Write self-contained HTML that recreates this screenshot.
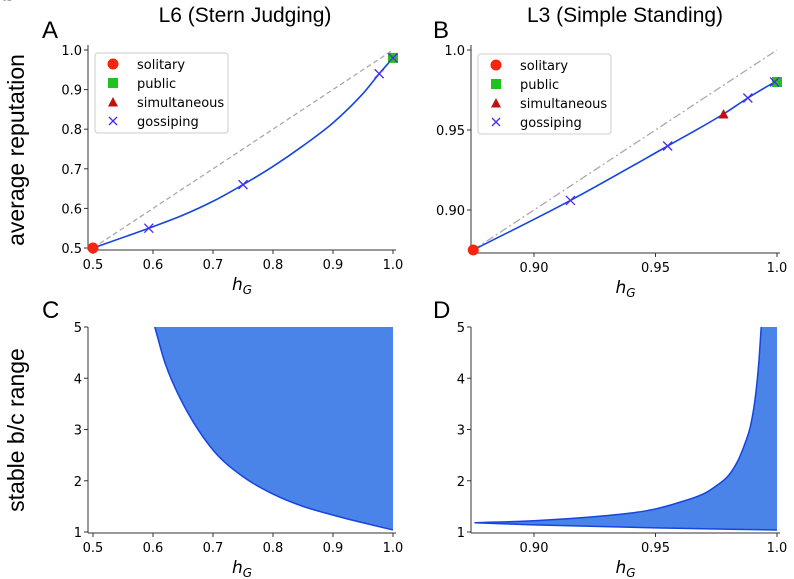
<!DOCTYPE html>
<html><head><meta charset="utf-8"><style>
body{margin:0;background:#fff}
svg{display:block;font-family:"DejaVu Sans","Liberation Sans",sans-serif}
</style></head><body>
<svg id="fig" width="794" height="579" viewBox="0 0 794 579">
<text x="245" y="22" font-size="21" text-anchor="middle" font-family="Liberation Sans, sans-serif">L6 (Stern Judging)</text>
<text x="625" y="22" font-size="21" text-anchor="middle" font-family="Liberation Sans, sans-serif">L3 (Simple Standing)</text>
<text x="42" y="38" font-size="24" font-family="Liberation Sans, sans-serif">A</text>
<text x="433" y="38" font-size="24" font-family="Liberation Sans, sans-serif">B</text>
<text x="42" y="318" font-size="24" font-family="Liberation Sans, sans-serif">C</text>
<text x="433" y="318" font-size="24" font-family="Liberation Sans, sans-serif">D</text>
<text transform="translate(24,150) rotate(-90)" font-size="23" text-anchor="middle" font-family="Liberation Sans, sans-serif">average reputation</text>
<text transform="translate(24,430) rotate(-90)" font-size="23" text-anchor="middle" font-family="Liberation Sans, sans-serif">stable b/c range</text>
</svg>
<script>
// Panel A data
const aCurveX=[0.5,0.593,0.65,0.7,0.75,0.8,0.85,0.9,0.95,0.977,1.0];
const aCurveY=[0.5,0.55,0.583,0.618,0.66,0.706,0.758,0.816,0.89,0.94,0.98];
const aGossipX=[0.593,0.75,0.977,1.0];
const aGossipY=[0.55,0.66,0.94,0.98];
const aSolitary=[0.5,0.5];
const aPublic=[1.0,0.98];
const aXTicks=[0.5,0.6,0.7,0.8,0.9,1.0];
const aXTickLabels=["0.5","0.6","0.7","0.8","0.9","1.0"];
const aYTicks=[0.5,0.6,0.7,0.8,0.9,1.0];
const aYTickLabels=["0.5","0.6","0.7","0.8","0.9","1.0"];
// Panel B data
const bCurveX=[0.875,0.915,0.955,0.978,0.988,0.999];
const bCurveY=[0.875,0.906,0.94,0.96,0.97,0.98];
const bGossipX=[0.915,0.955,0.988,0.999];
const bGossipY=[0.906,0.94,0.97,0.98];
const bSolitary=[0.875,0.875];
const bPublic=[1.0,0.98];
const bSimultaneous=[0.978,0.96];
const bXTicks=[0.90,0.95,1.0];
const bXTickLabels=["0.90","0.95","1.0"];
const bYTicks=[0.90,0.95,1.0];
const bYTickLabels=["0.90","0.95","1.0"];
// Panel C data
const cBoundX=[0.603,0.62,0.65,0.7,0.75,0.8,0.85,0.9,0.95,1.0];
const cBoundY=[5,4.3,3.5,2.6,2.08,1.74,1.5,1.33,1.18,1.04];
// Panel D data
const dUpperX=[0.8755,0.90,0.92,0.94,0.95,0.96,0.97,0.975,0.98,0.984,0.987,0.989,0.991,0.9925,0.9935];
const dUpperY=[1.18,1.22,1.28,1.37,1.45,1.58,1.75,1.9,2.1,2.4,2.75,3.05,3.6,4.3,5];
const dLowerX=[0.8755,0.9,0.95,1.0];
const dLowerY=[1.18,1.14,1.08,1.04];
const cdYTicks=[1,2,3,4,5];
const cdYTickLabels=["1","2","3","4","5"];

const NS="http://www.w3.org/2000/svg";
const svg=document.getElementById('fig');
function mk(tag,attrs,parent){const e=document.createElementNS(NS,tag);for(const k in attrs)e.setAttribute(k,attrs[k]);(parent||svg).appendChild(e);return e;}
function scale(d0,d1,r0,r1){return v=>r0+(v-d0)/(d1-d0)*(r1-r0);}
function smoothPath(xs,ys,sx,sy,cont){
  const P=xs.map((x,i)=>[sx(x),sy(ys[i])]);const n=P.length;
  const d=[],m=[];
  for(let i=0;i<n-1;i++)d.push((P[i+1][1]-P[i][1])/(P[i+1][0]-P[i][0]));
  m[0]=d[0];m[n-1]=d[n-2];
  for(let i=1;i<n-1;i++){m[i]=(d[i-1]*d[i]<=0)?0:(d[i-1]+d[i])/2;}
  for(let i=0;i<n-1;i++){if(d[i]===0){m[i]=m[i+1]=0;continue;}
    const a=m[i]/d[i],b=m[i+1]/d[i],s=a*a+b*b;if(s>9){const t=3/Math.sqrt(s);m[i]=t*a*d[i];m[i+1]=t*b*d[i];}}
  let p=(cont?'L':'M')+P[0][0].toFixed(2)+','+P[0][1].toFixed(2);
  for(let i=0;i<n-1;i++){const h=(P[i+1][0]-P[i][0])/3;
    p+=` C${(P[i][0]+h).toFixed(2)},${(P[i][1]+m[i]*h).toFixed(2)} ${(P[i+1][0]-h).toFixed(2)},${(P[i+1][1]-m[i+1]*h).toFixed(2)} ${P[i+1][0].toFixed(2)},${P[i+1][1].toFixed(2)}`;}
  return p;
}

function axes(name,left,right,top,bottom,sx,sy,xt,xl,yt,yl,xlab,ylab,ylabX){
  const g=mk('g',{});
  
  
  const ls=mk('line',{x1:left,y1:top,x2:left,y2:bottom,stroke:'#333','stroke-width':1},g);
  
  
  const bs=mk('line',{x1:left,y1:bottom,x2:right,y2:bottom,stroke:'#333','stroke-width':1},g);
  
  
  xt.forEach((v,i)=>{const x=sx(v);mk('line',{x1:x,y1:bottom,x2:x,y2:bottom+4,stroke:'#333'},g);
    const t=mk('text',{x:x,y:bottom+19,'font-size':13,'text-anchor':'middle'},g);t.textContent=xl[i];
    
    });
  yt.forEach((v,i)=>{const y=sy(v);mk('line',{x1:left-4,y1:y,x2:left,y2:y,stroke:'#333'},g);
    const t=mk('text',{x:left-6,y:y+5,'font-size':13,'text-anchor':'end'},g);t.textContent=yl[i];
    
    });
  const xlt=mk('text',{x:(left+right)/2,y:bottom+40,'font-size':17,'font-style':'italic','text-anchor':'middle'},g);
  xlt.innerHTML='h<tspan font-size="12" dy="4">G</tspan>';
  
  
  const ylt=mk('text',{transform:`translate(${ylabX},${(top+bottom)/2}) rotate(-90)`,'font-size':18,'font-style':'italic','text-anchor':'middle'},g);
  ylt.textContent=ylab;
  
  
}
function xmark(x,y,name){const g=mk('g',{stroke:'#4a2cf0','stroke-width':1.3});
  
  
  mk('line',{x1:x-4.5,y1:y-4.5,x2:x+4.5,y2:y+4.5},g);mk('line',{x1:x-4.5,y1:y+4.5,x2:x+4.5,y2:y-4.5},g);}
function legend(name,x0,y0){
  const g=mk('g',{});
  
  
  mk('rect',{x:x0,y:y0,width:133,height:80,rx:3,fill:'#fff',stroke:'#ccc'},g);
  const labels=['solitary','public','simultaneous','gossiping'];
  labels.forEach((l,i)=>{const cy=y0+11+i*19,mx=x0+18;
    if(i===0)mk('circle',{cx:mx,cy:cy,r:5.5,fill:'#f5250f'},g);
    if(i===1)mk('rect',{x:mx-5,y:cy-5,width:10,height:10,fill:'#22c21e'},g);
    if(i===2)mk('path',{d:`M${mx-5},${cy+4.5}L${mx+5},${cy+4.5}L${mx},${cy-5}Z`,fill:'#c20f0f'},g);
    if(i===3){mk('line',{x1:mx-4,y1:cy-4,x2:mx+4,y2:cy+4,stroke:'#4a2cf0','stroke-width':1.3},g);mk('line',{x1:mx-4,y1:cy+4,x2:mx+4,y2:cy-4,stroke:'#4a2cf0','stroke-width':1.3},g);}
    const t=mk('text',{x:x0+42,y:cy+5,'font-size':13},g);t.textContent=l;
    
    });
}

// Panel A
{const sx=scale(0.5,1.0,93,393),sy=scale(0.5,1.0,248,50);
 axes('panel-a',88,396,45,250,sx,sy,aXTicks,aXTickLabels,aYTicks,aYTickLabels,'h',50);
 const d=mk('line',{x1:sx(0.5),y1:sy(0.5),x2:sx(1),y2:sy(1),stroke:'#aaa','stroke-width':1.3,'stroke-dasharray':'5,3'});
 
 
 const c=mk('path',{d:smoothPath(aCurveX,aCurveY,sx,sy),fill:'none',stroke:'#1445e0','stroke-width':1.6});
 
 
 const s=mk('circle',{cx:sx(aSolitary[0]),cy:sy(aSolitary[1]),r:5.5,fill:'#f5250f'});
 
 
 const p=mk('rect',{x:sx(aPublic[0])-5,y:sy(aPublic[1])-5,width:10,height:10,fill:'#22c21e'});
 
 
 aGossipX.forEach((x,i)=>xmark(sx(x),sy(aGossipY[i]),'panel-a-gossip-point'));
 legend('panel-a-legend',95,53);}
// Panel B
{const sx=scale(0.90,1.0,534,777),sy=scale(0.90,1.0,210,50);
 axes('panel-b',471,780,45,253,sx,sy,bXTicks,bXTickLabels,bYTicks,bYTickLabels,'h',425);
 const d=mk('line',{x1:sx(0.875),y1:sy(0.875),x2:sx(1),y2:sy(1),stroke:'#aaa','stroke-width':1.3,'stroke-dasharray':'8,3,2,3'});
 
 
 const c=mk('path',{d:smoothPath(bCurveX,bCurveY,sx,sy),fill:'none',stroke:'#1445e0','stroke-width':1.6});
 
 
 const s=mk('circle',{cx:sx(bSolitary[0]),cy:sy(bSolitary[1]),r:5.5,fill:'#f5250f'});
 
 
 const p=mk('rect',{x:sx(bPublic[0])-5,y:sy(bPublic[1])-5,width:10,height:10,fill:'#22c21e'});
 
 
 const mx=sx(bSimultaneous[0]),my=sy(bSimultaneous[1]);
 const t=mk('path',{d:`M${mx-5},${my+4.5}L${mx+5},${my+4.5}L${mx},${my-5}Z`,fill:'#c20f0f'});
 
 
 bGossipX.forEach((x,i)=>xmark(sx(x),sy(bGossipY[i]),'panel-b-gossip-point'));
 legend('panel-b-legend',478,54);}
// Panel C
{const sx=scale(0.5,1.0,93,393),sy=scale(1,5,532,327);
 axes('panel-c',88,396,327,533,sx,sy,aXTicks,aXTickLabels,cdYTicks,cdYTickLabels,'b/c',60);
 const b=smoothPath(cBoundX,cBoundY,sx,sy);
 const f=mk('path',{d:b+` L${sx(1)},${sy(5)} L${sx(cBoundX[0])},${sy(5)} Z`,fill:'#4a84e8'});
 
 
 const l=mk('path',{d:b,fill:'none',stroke:'#1445e0','stroke-width':1.5});
 
 }
// Panel D
{const sx=scale(0.90,1.0,534,777),sy=scale(1,5,532,327);
 axes('panel-d',471,780,327,533,sx,sy,bXTicks,bXTickLabels,cdYTicks,cdYTickLabels,'b/c',443);
 const up=smoothPath(dUpperX,dUpperY,sx,sy);
 const rx=dLowerX.slice().reverse(),ry=dLowerY.slice().reverse();
 const f=mk('path',{d:up+` L${sx(1)},${sy(5)} `+smoothPath(rx,ry,sx,sy,true)+' Z',fill:'#4a84e8'});
 
 
 const u=mk('path',{d:up,fill:'none',stroke:'#1445e0','stroke-width':1.5});
 
 
 const lo=mk('path',{d:smoothPath(dLowerX,dLowerY,sx,sy),fill:'none',stroke:'#1445e0','stroke-width':1.5});
 
 }
</script>
</body></html>
